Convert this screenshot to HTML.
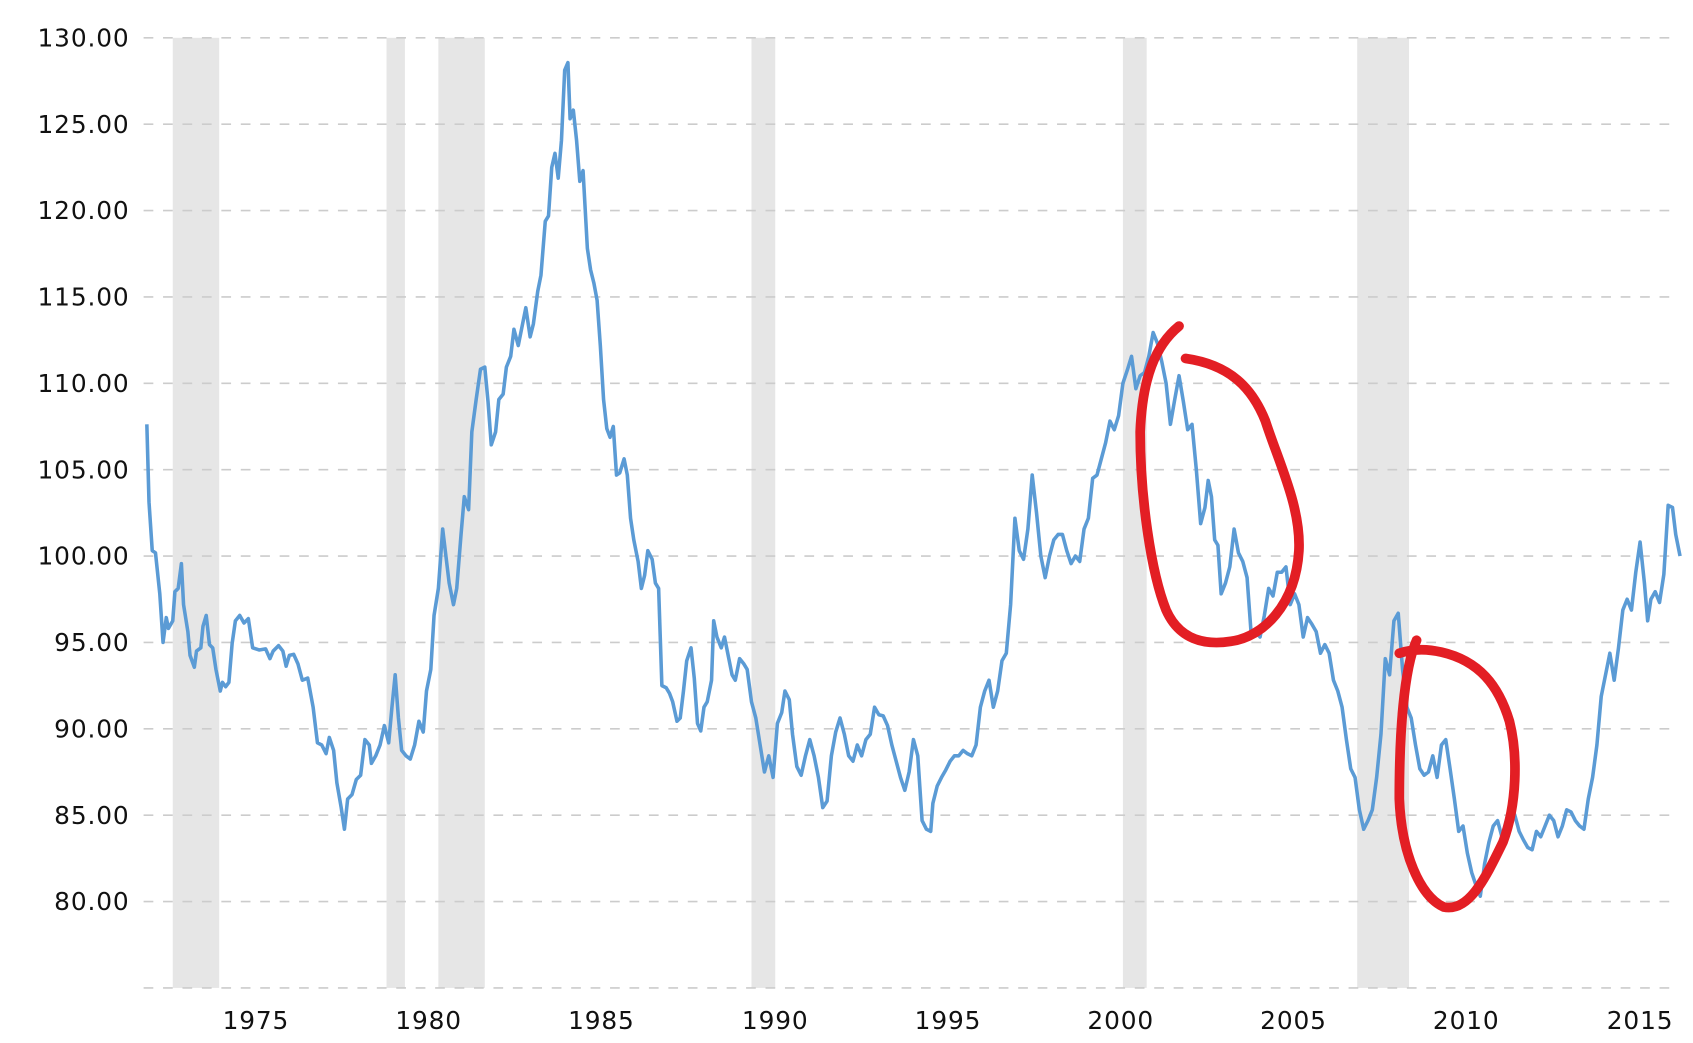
<!DOCTYPE html>
<html><head><meta charset="utf-8"><style>html,body{margin:0;padding:0;background:#fff;overflow:hidden}svg{display:block}</style></head>
<body>
<svg width="1693" height="1043" viewBox="0 0 1568 966" preserveAspectRatio="none" xmlns="http://www.w3.org/2000/svg">
<g fill="#e6e6e6">
<rect x="160" y="35" width="43" height="880"/>
<rect x="358" y="35" width="17" height="880"/>
<rect x="406" y="35" width="43" height="880"/>
<rect x="696" y="35" width="22" height="880"/>
<rect x="1040" y="35" width="22" height="880"/>
<rect x="1257" y="35" width="48" height="880"/>
</g>
<g stroke="#cccccc" stroke-width="1.5" stroke-dasharray="9,9">
<line x1="133" x2="1553" y1="35" y2="35"/><line x1="133" x2="1553" y1="115" y2="115"/>
<line x1="133" x2="1553" y1="195" y2="195"/><line x1="133" x2="1553" y1="275" y2="275"/>
<line x1="133" x2="1553" y1="355" y2="355"/><line x1="133" x2="1553" y1="435" y2="435"/>
<line x1="133" x2="1553" y1="515" y2="515"/><line x1="133" x2="1553" y1="595" y2="595"/>
<line x1="133" x2="1553" y1="675" y2="675"/><line x1="133" x2="1553" y1="755" y2="755"/>
<line x1="133" x2="1553" y1="835" y2="835"/><line x1="133" x2="1553" y1="915" y2="915"/>
</g>
<g font-family="DejaVu Sans, Liberation Sans, sans-serif" font-size="23" letter-spacing="0.8" fill="#111" text-anchor="end">
<text x="120" y="43">130.00</text><text x="120" y="123">125.00</text><text x="120" y="203">120.00</text>
<text x="120" y="283">115.00</text><text x="120" y="363">110.00</text><text x="120" y="443">105.00</text>
<text x="120" y="523">100.00</text><text x="120" y="603">95.00</text><text x="120" y="683">90.00</text>
<text x="120" y="763">85.00</text><text x="120" y="843">80.00</text>
</g>
<g font-family="DejaVu Sans, Liberation Sans, sans-serif" font-size="23" letter-spacing="0.8" fill="#111" text-anchor="middle">
<text x="237" y="953">1975</text><text x="397" y="953">1980</text><text x="557" y="953">1985</text>
<text x="718" y="953">1990</text><text x="878" y="953">1995</text><text x="1038" y="953">2000</text>
<text x="1198" y="953">2005</text><text x="1358" y="953">2010</text><text x="1519" y="953">2015</text>
</g>
<polyline fill="none" stroke="#5b9bd5" stroke-width="3.3" stroke-linejoin="round" points="136,393 138,465 141,510 144,512 148,550 151,595 154,572 156,582 160,575 162,548 165,545 168,522 170,560 174,585 176,607 180,618 182,603 186,600 188,580 191,570 194,597 197,600 200,620 204,640 206,632 209,636 212,632 215,596 218,575 222,570 226,577 230,573 234,600 240,602 246,601 250,610 253,603 258,598 262,603 265,617 268,607 272,606 276,615 280,630 285,628 290,655 294,688 298,690 302,698 305,683 309,695 312,725 316,748 319,768 322,740 326,736 330,722 334,718 338,685 342,690 344,707 348,700 352,690 356,672 360,688 363,655 366,625 369,665 372,695 376,700 380,703 384,690 388,668 392,678 395,640 399,620 402,570 406,545 410,490 413,515 416,540 420,560 423,545 427,495 430,460 434,472 437,400 441,370 445,342 449,340 452,372 455,412 459,400 462,370 466,365 469,340 473,330 476,305 480,320 484,300 487,285 491,312 494,300 498,270 501,255 505,205 508,200 511,155 514,142 517,165 520,130 523,65 526,58 528,110 531,102 534,130 537,168 540,158 544,230 547,250 550,262 553,278 556,320 559,370 562,397 565,405 568,395 571,440 574,438 578,425 581,440 584,480 587,500 591,520 594,545 597,533 600,510 604,518 607,540 610,545 613,635 617,637 620,642 623,650 627,668 630,665 633,640 636,612 640,600 643,628 646,670 649,677 652,655 655,650 659,630 661,575 664,590 668,600 671,590 675,610 678,625 681,630 685,610 689,615 692,620 696,650 700,665 704,690 708,715 712,700 716,720 720,670 724,660 727,640 731,648 734,680 738,710 742,718 746,700 750,685 754,700 758,720 762,748 766,742 770,700 774,678 778,665 782,680 786,700 790,705 794,690 798,700 802,685 806,680 810,655 814,662 818,663 822,672 826,690 830,705 834,720 838,732 842,715 846,685 850,700 854,760 858,768 862,770 864,744 868,728 872,720 876,713 880,705 884,700 888,700 892,695 896,698 900,700 904,690 908,655 912,640 916,630 920,655 924,640 928,612 932,605 936,560 940,480 944,510 948,518 952,490 956,440 960,475 964,515 968,535 972,515 976,500 980,495 984,495 988,510 992,522 996,515 1000,520 1004,490 1008,480 1012,443 1016,440 1020,425 1024,410 1028,390 1032,398 1036,385 1040,355 1044,343 1048,330 1052,360 1056,348 1060,345 1064,330 1068,308 1072,318 1076,335 1080,355 1084,393 1088,370 1092,348 1096,372 1100,398 1104,393 1108,435 1112,485 1116,470 1119,445 1122,460 1125,500 1128,505 1131,550 1135,540 1139,525 1143,490 1147,512 1151,520 1155,535 1159,590 1163,585 1167,590 1171,570 1175,545 1179,552 1183,530 1187,530 1191,525 1195,560 1199,550 1203,560 1207,590 1211,572 1215,578 1219,585 1223,605 1227,597 1231,605 1235,630 1239,640 1243,655 1247,685 1251,712 1255,720 1259,750 1263,768 1267,760 1271,750 1275,720 1279,680 1283,610 1287,625 1291,575 1295,568 1299,620 1303,655 1307,665 1311,690 1315,712 1319,718 1323,715 1327,700 1331,720 1335,690 1339,685 1343,712 1347,740 1351,770 1355,765 1359,790 1363,808 1367,820 1371,830 1375,800 1379,780 1383,765 1387,760 1391,775 1395,760 1399,745 1403,755 1407,770 1411,778 1415,785 1419,787 1423,770 1427,775 1431,765 1435,755 1439,760 1443,775 1447,765 1451,750 1455,752 1459,760 1463,765 1467,768 1471,740 1475,720 1479,690 1483,645 1487,625 1491,605 1495,630 1499,600 1503,565 1507,555 1511,565 1515,530 1519,502 1523,540 1526,575 1529,555 1533,548 1537,558 1541,532 1545,468 1549,470 1552,495 1556,515"/>
<g fill="none" stroke="#e31e24" stroke-width="9" stroke-linecap="round" stroke-linejoin="round">
<path d="M1092,302 C1070,320 1058,350 1056,400 C1056,460 1066,530 1080,565 C1092,592 1115,598 1140,594 C1170,590 1200,560 1203,510 C1205,470 1185,430 1172,390 C1160,360 1140,338 1098,332"/>
<path d="M1312,593 C1300,620 1296,680 1296,740 C1298,790 1315,830 1337,840 C1360,845 1375,815 1392,780 C1405,745 1406,700 1398,668 C1388,635 1370,612 1335,604 C1318,600 1305,602 1296,605"/>
</g>
</svg>
</body></html>
